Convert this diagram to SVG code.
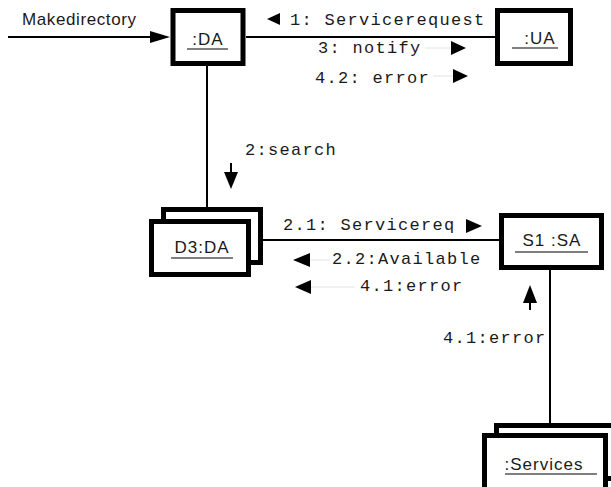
<svg xmlns="http://www.w3.org/2000/svg" width="611" height="487" viewBox="0 0 611 487">
<style>
.box{fill:#fff;stroke:#000;stroke-width:5}
.lbl{font-family:"Liberation Sans",Arial,sans-serif;font-size:17px;fill:#1a1a1a;text-anchor:middle;letter-spacing:1px}
.ul{stroke:#555;stroke-width:1.5}
.conn{stroke:#000;stroke-width:2;fill:none}
.msg{font-family:"Liberation Mono","Courier New",monospace;font-size:17px;fill:#1a1a1a;letter-spacing:1.3px}
.head{fill:#000}
.shaft{stroke:#e4e4e4;stroke-width:1}
</style>
<rect width="611" height="487" fill="#fff"/>
<g id="connectors">
  <line class="conn" x1="8" y1="37" x2="160" y2="37"/>
  <polygon class="head" points="170,37 150,31 150,43"/>
  <text x="22" y="25" font-family="Liberation Sans,Arial,sans-serif" font-size="17" fill="#1a1a1a" letter-spacing="0.6">Makedirectory</text>
  <line class="conn" x1="246" y1="37" x2="496" y2="37"/>
  <line class="conn" x1="207" y1="66" x2="207" y2="208"/>
  <line class="conn" x1="263" y1="240" x2="500" y2="240"/>
  <line class="conn" x1="550" y1="270" x2="550" y2="424"/>
  <!-- messages DA-UA -->
  <polygon class="head" points="267,19 280,13 280,25"/>
  <text class="msg" x="290" y="25">1: Servicerequest</text>
  <line class="shaft" x1="425" y1="48" x2="451" y2="48"/>
  <text class="msg" x="318" y="53">3: notify</text>
  <polygon class="head" points="466,48 451,41 451,55"/>
  <line class="shaft" x1="433" y1="76" x2="453" y2="76"/>
  <text class="msg" x="315" y="83">4.2: error</text>
  <polygon class="head" points="468,76 453,69 453,83"/>
  <!-- DA-D3 -->
  <text class="msg" x="245" y="155">2:search</text>
  <line x1="231" y1="163" x2="231" y2="175" stroke="#000" stroke-width="2"/>
  <polygon class="head" points="231,189 224,172 238,172"/>
  <!-- D3-S1 -->
  <text class="msg" x="283" y="230">2.1: Servicereq</text>
  <polygon class="head" points="482,226 466,219 466,233"/>
  <polygon class="head" points="293,260 310,253 310,267"/>
  <line class="shaft" x1="310" y1="260" x2="330" y2="260"/>
  <text class="msg" x="332" y="264">2.2:Available</text>
  <polygon class="head" points="295,287 311,280 311,294"/>
  <line class="shaft" x1="311" y1="287" x2="355" y2="287"/>
  <text class="msg" x="360" y="291">4.1:error</text>
  <!-- S1-Services -->
  <polygon class="head" points="530,285 523,303 537,303"/>
  <line x1="530" y1="300" x2="530" y2="310" stroke="#000" stroke-width="2"/>
  <text class="msg" x="443" y="343">4.1:error</text>
</g>
<g id="DA">
  <rect class="box" x="173" y="10.5" width="70" height="53"/>
  <text class="lbl" x="208" y="45">:DA</text>
  <line class="ul" x1="187" y1="49" x2="228" y2="49"/>
</g>
<g id="UA">
  <rect class="box" x="497.5" y="10.5" width="73" height="53"/>
  <text class="lbl" x="540" y="44">:UA</text>
  <line class="ul" x1="512" y1="48" x2="558" y2="48"/>
</g>
<g id="D3DA">
  <rect class="box" x="163.5" y="209.5" width="97" height="53"/>
  <rect class="box" x="151.5" y="221.5" width="97" height="53"/>
  <text class="lbl" x="202" y="253">D3:DA</text>
  <line class="ul" x1="171" y1="258" x2="233" y2="258"/>
</g>
<g id="S1SA">
  <rect class="box" x="501.5" y="215.5" width="100" height="52"/>
  <text class="lbl" x="552" y="246" letter-spacing="2">S1 :SA</text>
  <line class="ul" x1="515" y1="252" x2="588" y2="252"/>
</g>
<g id="Services">
  <rect class="box" x="496.5" y="425.5" width="121" height="53"/>
  <rect class="box" x="484.5" y="435.5" width="121" height="55"/>
  <text class="lbl" x="544" y="470">:Services</text>
  <line class="ul" x1="505" y1="474" x2="597" y2="474"/>
</g>
</svg>
